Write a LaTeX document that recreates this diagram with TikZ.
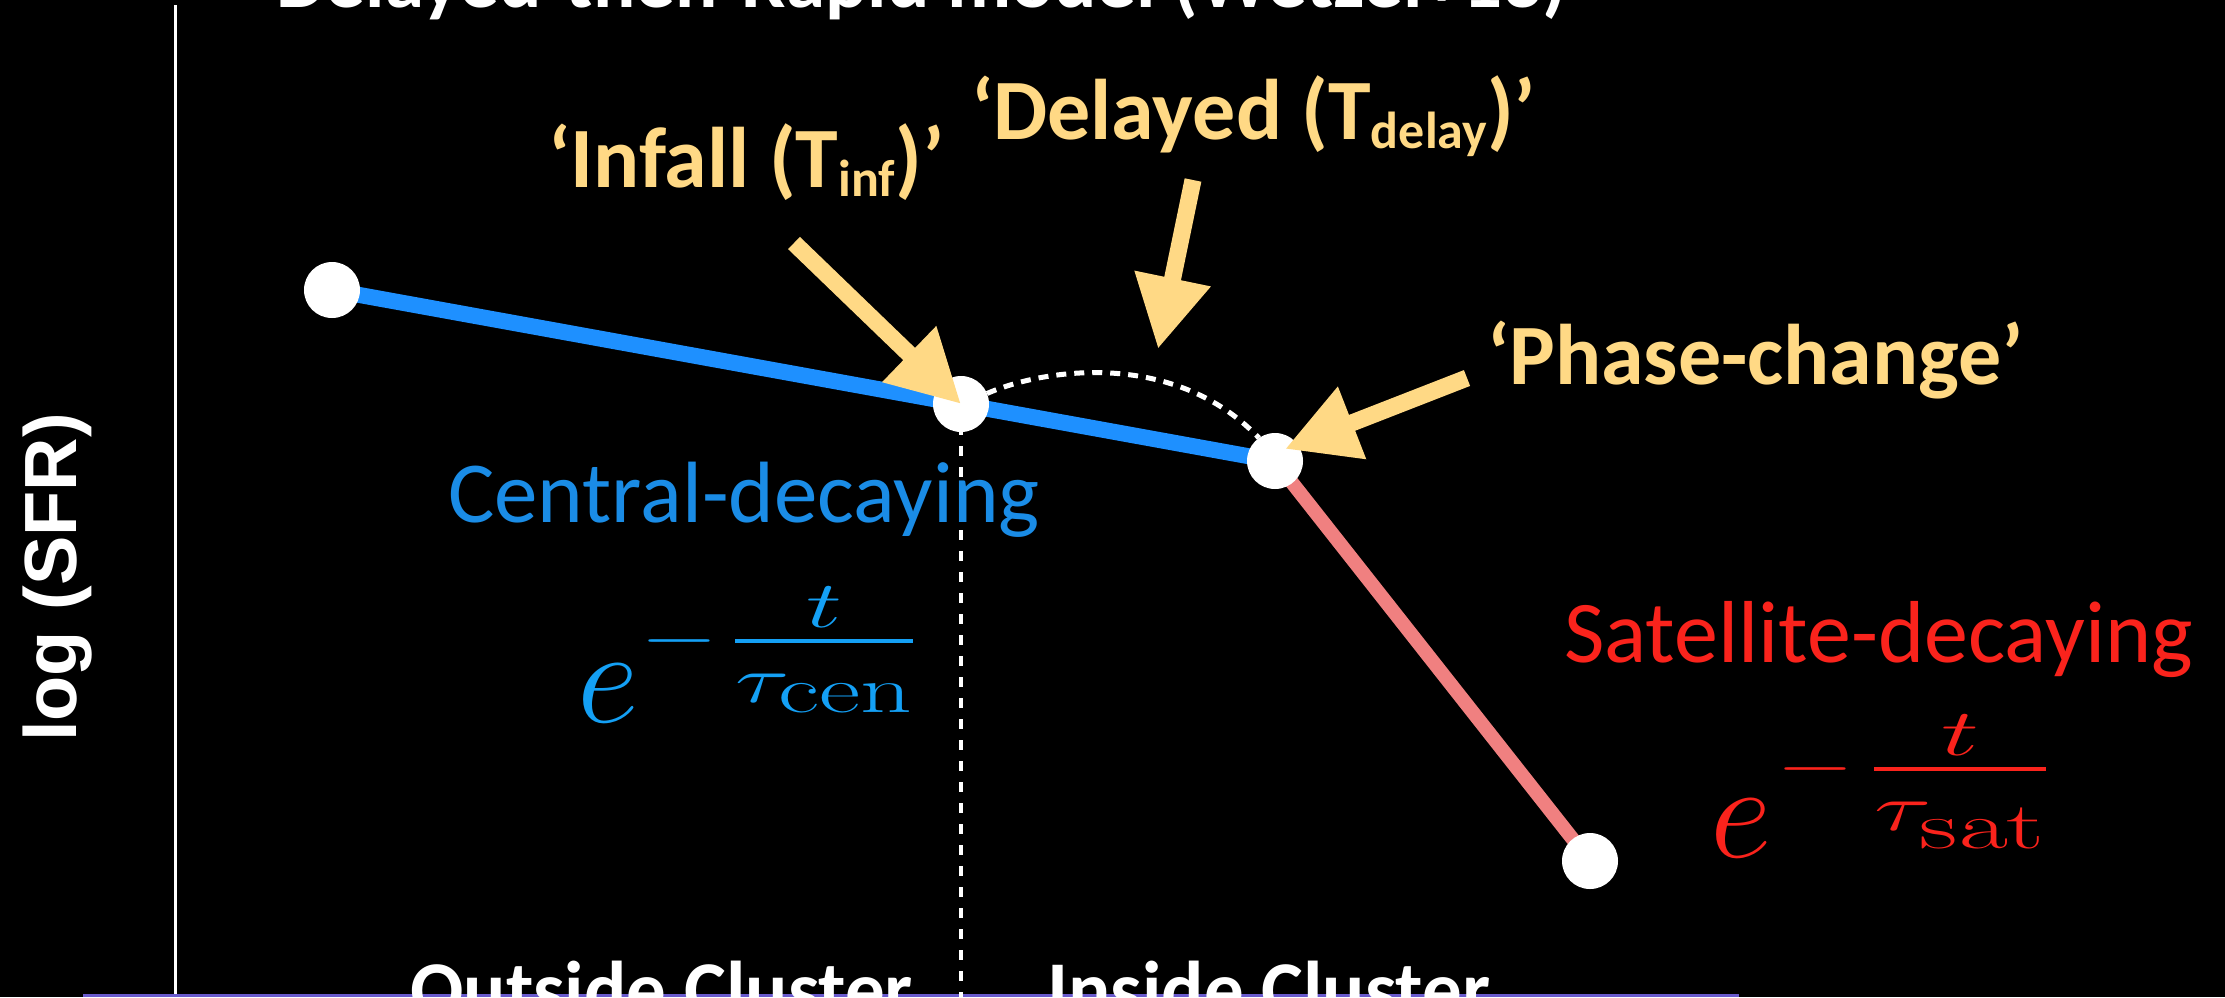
\RequirePackage{fix-cm}
\documentclass[tikz,border=0pt]{standalone}
\usepackage{amsmath}
\usepackage[no-math]{fontspec}
\usetikzlibrary{arrows.meta}
\setmainfont{Carlito}
\newfontfamily\cali{Carlito}
\newfontfamily\arialb{Liberation Sans}
\definecolor{ylw}{RGB}{255,217,133}
\definecolor{bline}{RGB}{30,144,255}
\definecolor{cline}{RGB}{240,128,128}
\definecolor{btext}{RGB}{26,140,230}
\definecolor{bform}{RGB}{20,160,245}
\definecolor{rtext}{RGB}{250,35,28}
\definecolor{purp}{RGB}{106,90,205}
\newcommand\ysub[1]{\raisebox{-9pt}{\fontsize{52}{52}\selectfont #1}}
% stretch a box horizontally to a given width (in pt)
\newsavebox\fitbox
\newcommand\fitx[2]{\sbox\fitbox{#2}\scalebox{\fpeval{#1/\wd\fitbox}}[1]{\usebox\fitbox}}
\newcommand\mminus{\fitx{78}{$-$}}
\newcommand\decayfrac[2]{\fitx{#1}{$\genfrac{}{}{4pt}{0}{\raisebox{-15pt}{$t$}}{\tau_{\textstyle\mathrm{#2}}}$}}
\begin{document}
\begin{tikzpicture}[x=1pt,y=-1pt,
  dot/.style={circle, fill=white, minimum size=56pt, inner sep=0pt},
  ylab/.style={text=ylw, font=\bfseries\fontsize{86}{86}\selectfont, inner sep=0pt, anchor=base west},
  yarrow/.style={draw=ylw, line width=17pt, -{Triangle[width=73pt,length=72pt]}},
  plain/.style={inner sep=0pt, anchor=base west},
  bigtxt/.style={plain, text=white, font=\bfseries\fontsize{79}{79}\selectfont},
  wdash/.style={draw=white, line width=4.5pt, dash pattern=on 10pt off 11pt},
  wdasharc/.style={draw=white, line width=5pt, dash pattern=on 10pt off 8pt},
  segblue/.style={draw=bline, line width=16pt},
  segred/.style={draw=cline, line width=14pt},
  ebase/.style={plain, font=\fontsize{135}{135}\selectfont},
  eexp/.style={inner sep=0pt, anchor=base, font=\fontsize{66}{66}\selectfont}]
\useasboundingbox (0,0) rectangle (2225,997);
\fill[black] (0,0) rectangle (2225,997);
\clip (0,0) rectangle (2225,997);

% axes
\coordinate (ytop) at (175,5);
\coordinate (ybot) at (175,997);
\draw[white, line width=3pt] (ytop) -- (ybot);
\coordinate (xl) at (83,995.5);
\coordinate (xr) at (1739,995.5);
\draw[purp, line width=3pt] (xl) -- (xr);

% title and axis labels
\node[bigtxt] (title) at (276,7) {Delayed-then-Rapid model (Wetzel+13)};
\node[bigtxt] (outside) at (410,1016) {Outside Cluster};
\node[bigtxt] (inside) at (1047,1016) {Inside Cluster};
\node[plain, rotate=90, text=white, font=\arialb\bfseries\fontsize{74}{74}\selectfont] (ylabel) at (76,742) {log (SFR)};

% curve points
\coordinate (c1) at (332,290);
\coordinate (c2) at (961,404);
\coordinate (c3) at (1275,461);
\coordinate (c4) at (1590,861);
\draw[segblue] (c1) -- (c3);
\draw[segred] (c3) -- (c4);
\coordinate (vb) at (961,997);
\draw[wdash] (c2) -- (vb);
\draw[wdasharc] (c2) ++(22:28pt) .. controls (1045,368) and (1175,350) .. (1259,438);
\node[dot] (p1) at (c1) {};
\node[dot] (p2) at (c2) {};
\node[dot] (p3) at (c3) {};
\node[dot] (p4) at (c4) {};

% labels
\node[plain, text=btext, font=\cali\fontsize{87}{87}\selectfont] (cen) at (448,522) {Central-decaying};
\node[plain, text=rtext, font=\cali\fontsize{88}{88}\selectfont] (sat) at (1564,662) {Satellite-decaying};

% formulas
\node[ebase, text=bform] (ecen) at (577,722) {$e$};
\node[eexp, text=bform] (mcen) at (679,657.5) {\mminus};
\node[eexp, text=bform] (fcen) at (824,657.5) {\decayfrac{181}{cen}};
\node[ebase, text=rtext] (esat) at (1710,857) {$e$};
\node[eexp, text=rtext] (msat) at (1815,785.5) {\mminus};
\node[eexp, text=rtext] (fsat) at (1960,785.5) {\decayfrac{175}{sat}};

% yellow labels and arrows
\node[ylab] (tinf) at (548,187) {‘Infall (T\ysub{inf})’};
\node[ylab] (tdel) at (971,139) {‘Delayed (T\ysub{delay})’};
\node[ylab] (tph) at (1487,384) {‘Phase-change’};
\coordinate (ta) at (794,243);
\coordinate (tb) at (1193,180);
\coordinate (tipb) at (1158,349);
\coordinate (tc) at (1467,378);
\coordinate (tipc) at (1285,449);
\draw[yarrow] (ta) -- (p2.center);
\draw[yarrow] (tb) -- (tipb);
\draw[yarrow] (tc) -- (tipc);
\end{tikzpicture}
\end{document}
